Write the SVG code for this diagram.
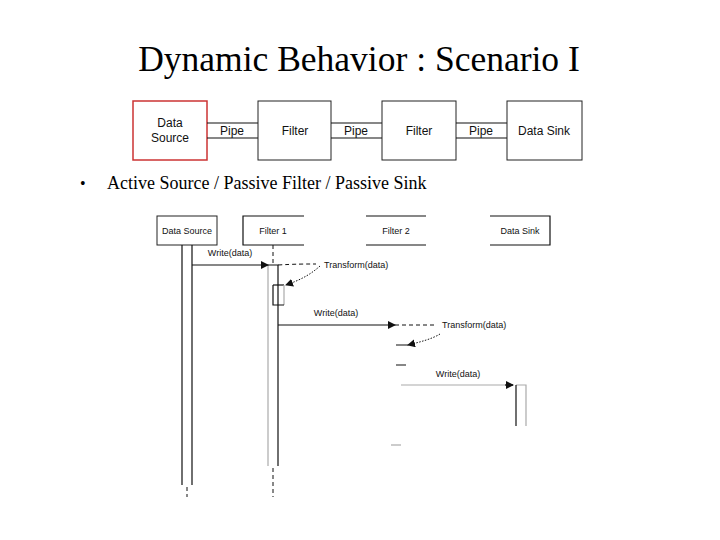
<svg xmlns="http://www.w3.org/2000/svg" width="720" height="540" viewBox="0 0 720 540">
<style>
.t{font-family:"Liberation Serif",serif;fill:#000}
.s{font-family:"Liberation Sans",Arial,sans-serif;fill:#111}
.b{fill:#fff;stroke:#222;stroke-width:1}
.l{stroke:#111;stroke-width:1.2;fill:none}
.g{stroke:#aaa;stroke-width:1.2;fill:none}
.d{stroke:#111;stroke-width:1;fill:none;stroke-dasharray:4 3}
.o{stroke:#111;stroke-width:1;fill:none;stroke-dasharray:1.5 1.5}
</style>
<defs><marker id="a" markerWidth="8" markerHeight="8" refX="7" refY="4" orient="auto" markerUnits="userSpaceOnUse"><path d="M0,0 L8,4 L0,8z" fill="#111"/></marker></defs>
<rect width="720" height="540" fill="#fff"/>
<text class="t" x="359" y="71" font-size="35.5" text-anchor="middle">Dynamic Behavior : Scenario I</text>
<g id="pipeline">
<g id="src"><rect x="133" y="101" width="74" height="59" fill="#fff" stroke="#c33" stroke-width="1.5"/><text class="s" font-size="12" text-anchor="middle"><tspan x="170" y="127">Data</tspan><tspan x="170" y="142">Source</tspan></text></g>
<g id="pipe1"><path class="l" d="M207 123H258M207 138H258"/><text class="s" x="232" y="135" font-size="12" text-anchor="middle">Pipe</text></g>
<g id="f1"><rect class="b" x="258" y="101" width="73" height="59"/><text class="s" x="295" y="135" font-size="12" text-anchor="middle">Filter</text></g>
<g id="pipe2"><path class="l" d="M331 123H382M331 138H382"/><text class="s" x="356" y="135" font-size="12" text-anchor="middle">Pipe</text></g>
<g id="f2"><rect class="b" x="382" y="101" width="74" height="59"/><text class="s" x="419" y="135" font-size="12" text-anchor="middle">Filter</text></g>
<g id="pipe3"><path class="l" d="M456 123H507M456 138H507"/><text class="s" x="481" y="135" font-size="12" text-anchor="middle">Pipe</text></g>
<g id="sink"><rect class="b" x="507" y="101" width="75" height="59"/><text class="s" x="544" y="135" font-size="12" text-anchor="middle">Data Sink</text></g>
</g>
<text class="t" x="80" y="189" font-size="16">•</text>
<text class="t" x="107" y="189" font-size="18">Active Source / Passive Filter / Passive Sink</text>
<g id="seq-src"><rect class="b" x="157" y="216" width="60" height="29"/><text class="s" x="187" y="234" font-size="9" text-anchor="middle">Data Source</text>
<path class="l" d="M182 245V485M192 245V485"/><path class="d" d="M187 487V497"/></g>
<g id="seq-f1"><path class="l" d="M304 216H243V245H304"/><text class="s" x="273" y="234" font-size="9" text-anchor="middle">Filter 1</text>
<path class="d" d="M273 245V265"/><path class="g" d="M268 265V466"/><path class="l" d="M268 265H278V466"/>
<path class="l" d="M273 285H284"/><path class="g" d="M284 285V305"/><path class="l" d="M273 285V305H284"/>
<path class="d" d="M273 468V497"/></g>
<g id="seq-f2"><path class="l" d="M366 216H426M366 245H426"/><text class="s" x="396" y="234" font-size="9" text-anchor="middle">Filter 2</text>
<path class="l" d="M396 345H408M396 365H406"/><path class="g" d="M391 445H401"/></g>
<g id="seq-sink"><path class="l" d="M490 216H550V245H490"/><text class="s" x="520" y="234" font-size="9" text-anchor="middle">Data Sink</text>
<path class="g" d="M516 385H526V426"/><path class="l" d="M516 385V426"/></g>
<g id="connectors">
<path class="l" d="M192 265H268" marker-end="url(#a)"/><text class="s" x="230" y="256" font-size="9" text-anchor="middle">Write(data)</text>
<path class="d" d="M278 265C295 264 305 264 316 264"/><path class="o" d="M320 266C310 275 300 280 286 285" marker-end="url(#a)"/><text class="s" x="324" y="268" font-size="9">Transform(data)</text>
<path class="l" d="M278 325H395" marker-end="url(#a)"/><path class="d" d="M395 325H437"/><text class="s" x="336" y="316" font-size="9" text-anchor="middle">Write(data)</text><text class="s" x="442" y="328" font-size="9">Transform(data)</text>
<path class="o" d="M440 334C432 339 420 342 408 345" marker-end="url(#a)"/>
<path class="g" d="M401 385H513"/><path class="l" d="M505 385H513" marker-end="url(#a)"/><text class="s" x="458" y="377" font-size="9" text-anchor="middle">Write(data)</text>
</g>
</svg>
